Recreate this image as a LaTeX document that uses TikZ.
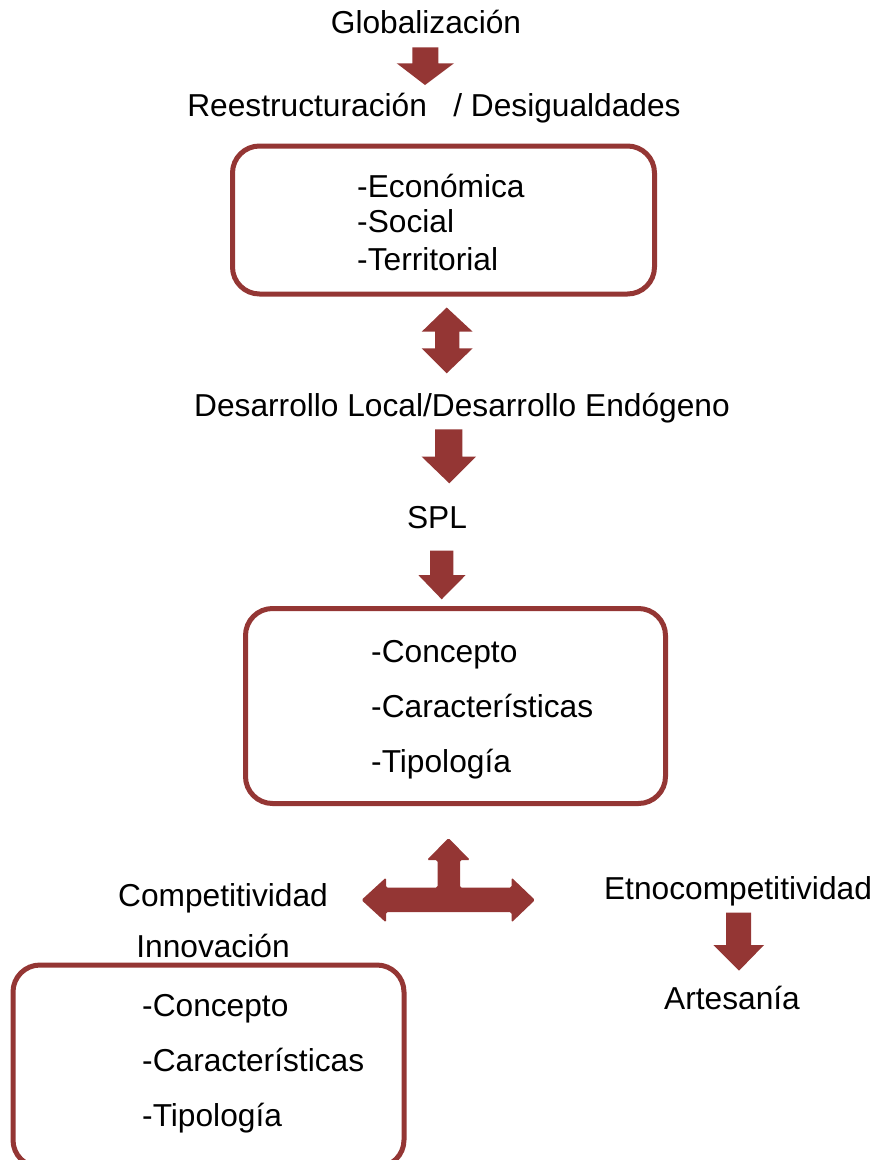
\documentclass[tikz,border=0pt]{standalone}
\usepackage{fontspec}
\setmainfont{Liberation Sans}
\definecolor{wine}{RGB}{148,54,52}
\begin{document}
\begin{tikzpicture}[x=1pt,y=-1pt,
  lbl/.style={inner sep=0pt,font=\fontsize{31.7}{38}\selectfont},
  box/.style={draw=wine,line width=5pt,rounded corners=27pt,inner sep=0pt},
  blk/.style={fill=wine,draw=none}]
\useasboundingbox (0,0) rectangle (877,1160);
\clip (0,0) rectangle (877,1160);
% texts
\node[lbl,anchor=base] (glob) at (426,33) {Globalización};
\node[lbl,anchor=base] (rees) at (434,116) {Reestructuración\ \ \ / Desigualdades};
\node[box,minimum width=422pt,minimum height=148pt] (b1) at (443.5,220) {};
\node[lbl,anchor=base west] (e1) at (357,197) {-Económica};
\node[lbl,anchor=base west] (e2) at (357,232) {-Social};
\node[lbl,anchor=base west] (e3) at (357,270) {-Territorial};
\node[lbl,anchor=base] (dl) at (462,416) {Desarrollo Local/Desarrollo Endógeno};
\node[lbl,anchor=base] (spl) at (437,528) {SPL};
\node[box,minimum width=420pt,minimum height=195pt] (b2) at (455.5,706) {};
\node[lbl,anchor=base west] (c1) at (371,662) {-Concepto};
\node[lbl,anchor=base west] (c2) at (371,717) {-Características};
\node[lbl,anchor=base west] (c3) at (371,772) {-Tipología};
\node[lbl,anchor=base] (comp) at (223,906) {Competitividad};
\node[lbl,anchor=base] (inno) at (213,957) {Innovación};
\node[lbl,anchor=base] (etno) at (738,899) {Etnocompetitividad};
\node[lbl,anchor=base] (arte) at (732,1009) {Artesanía};
\node[box,minimum width=391pt,minimum height=202pt] (b3) at (208.5,1066) {};
\node[lbl,anchor=base west] (d1) at (142,1016) {-Concepto};
\node[lbl,anchor=base west] (d2) at (142,1071) {-Características};
\node[lbl,anchor=base west] (d3) at (142,1126) {-Tipología};
% block arrows
\fill[blk] (412.3,47.3) -- (438.3,47.3) -- (438.3,63.3) -- (454,63.3) -- (425,85) -- (396.7,63.3) -- (412.3,63.3) -- cycle;
\fill[blk] (446.7,307.5) -- (472.7,331.7) -- (459.3,331.7) -- (459.3,348.3) -- (472.7,348.3) -- (446.7,373.3) -- (421.7,348.3) -- (435,348.3) -- (435,331.7) -- (421.7,331.7) -- cycle;
\fill[blk] (435,429.3) -- (462.3,429.3) -- (462.3,456.7) -- (476,456.7) -- (449.3,483.3) -- (421.7,456.7) -- (435,456.7) -- cycle;
\fill[blk] (430,550.7) -- (453.3,550.7) -- (453.3,575) -- (465.7,575) -- (441.7,599.3) -- (418.3,575) -- (430,575) -- cycle;
\fill[blk,rounded corners=1.5pt] (448.5,838) -- (470,860) -- (460,860) -- (460,887.5) -- (511.5,887.5) -- (511.5,877.5) -- (535,900) -- (511.5,922.5) -- (511.5,912) -- (386,912) -- (386,922.5) -- (361.5,900) -- (386,877.5) -- (386,887.5) -- (437.5,887.5) -- (437.5,860) -- (427,860) -- cycle;
\fill[blk] (726,912.7) -- (751,912.7) -- (751,945) -- (764,945) -- (739,970.7) -- (713.3,945) -- (726,945) -- cycle;
\end{tikzpicture}
\end{document}
